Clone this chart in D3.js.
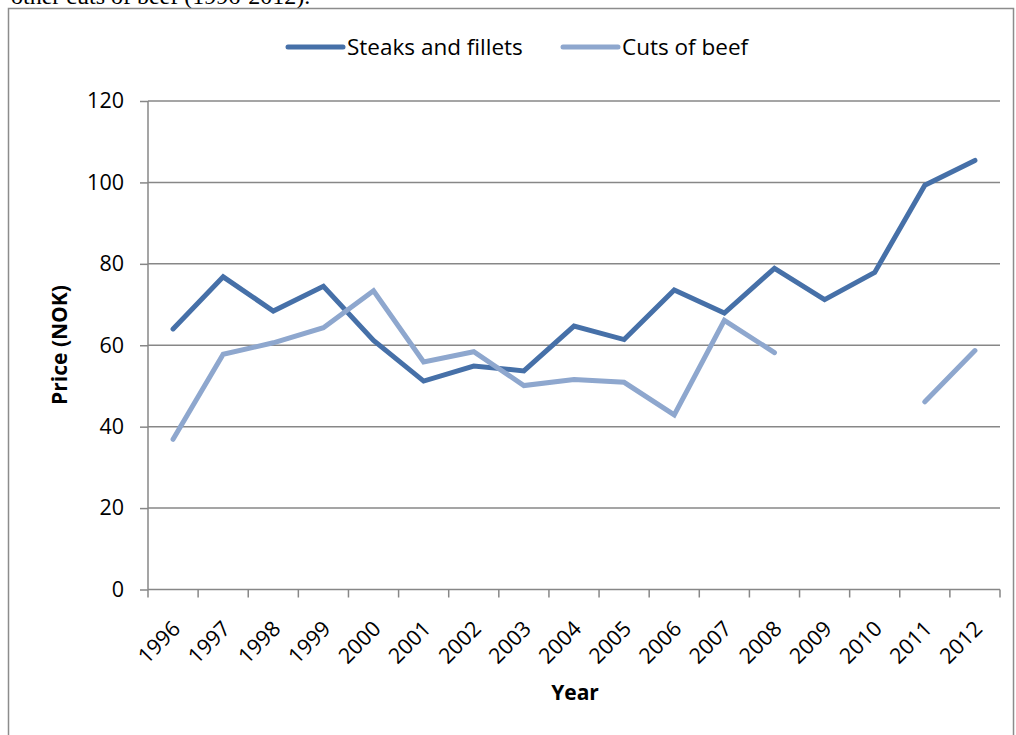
<!DOCTYPE html>
<html>
<head>
<meta charset="utf-8">
<script src="https://cdn.jsdelivr.net/npm/d3@7"></script>
<style>
  body { margin: 0; background: #fff; }
  svg { display: block; font-family: "Open Sans", sans-serif; }
</style>
</head>
<body>
<svg id="chart" width="1016" height="735"></svg>
<script>
// Chart values
const years = ["1996", "1997", "1998", "1999", "2000", "2001", "2002", "2003", "2004",
               "2005", "2006", "2007", "2008", "2009", "2010", "2011", "2012"];
const steaks = [64.0, 76.8, 68.4, 74.5, 61.2, 51.2, 54.9, 53.7, 64.7,
                61.4, 73.6, 67.9, 78.9, 71.2, 77.9, 99.3, 105.4];
const cuts = [36.9, 57.8, 60.6, 64.3, 73.4, 55.9, 58.4, 50.1, 51.6,
              50.9, 42.9, 66.1, 58.2, null, null, 46.1, 58.7];
const yTicks = [0, 20, 40, 60, 80, 100, 120];
const seriesNames = ["Steaks and fillets", "Cuts of beef"];
const colors = ["#4670A8", "#8EA7CE"];

const svg = d3.select("#chart");
const margin = {left: 148, right: 1000, top: 101, bottom: 589.5};

// caption cut off above the frame (as in the reference)
svg.append("text")
    .attr("x", 11).attr("y", 4)
    .attr("font-family", "Liberation Serif, serif")
    .attr("font-size", 24)
    .text("other cuts of beef (1996-2012).");

// chart frame
svg.append("rect")
    .attr("x", 8.5).attr("y", 8.5)
    .attr("width", 1005).attr("height", 740)
    .attr("fill", "none").attr("stroke", "#8c8c8c").attr("stroke-width", 1.5);

const x = d3.scaleBand().domain(years).range([margin.left, margin.right]);
const y = d3.scaleLinear().domain([0, 120]).range([margin.bottom, margin.top]);

// gridlines
svg.append("g")
    .selectAll("line")
    .data(yTicks.filter(d => d > 0))
    .enter().append("line")
    .attr("x1", margin.left).attr("x2", margin.right)
    .attr("y1", d => y(d)).attr("y2", d => y(d))
    .attr("stroke", "#878787").attr("stroke-width", 1.5);

// y axis
const yAxis = svg.append("g")
    .attr("transform", `translate(${margin.left},0)`)
    .call(d3.axisLeft(y).tickValues(yTicks).tickSize(8).tickPadding(16));
yAxis.selectAll("line, path").attr("stroke", "#878787").attr("stroke-width", 1.5);
yAxis.select(".domain").attr("d", `M0,${margin.top}V${margin.bottom}`);
yAxis.selectAll("text").attr("font-size", 21.5).attr("fill", "#000")
    .attr("font-family", "Open Sans, sans-serif");

// x axis: ticks on category boundaries
const xAxis = svg.append("g")
    .attr("transform", `translate(0,${margin.bottom})`);
xAxis.append("line")
    .attr("x1", margin.left).attr("x2", margin.right)
    .attr("stroke", "#878787").attr("stroke-width", 1.5);
xAxis.selectAll(".tick")
    .data(years.concat(["end"]))
    .enter().append("line")
    .attr("x1", (d, i) => i < years.length ? x(d) : margin.right)
    .attr("x2", (d, i) => i < years.length ? x(d) : margin.right)
    .attr("y1", 0).attr("y2", 8)
    .attr("stroke", "#878787").attr("stroke-width", 1.5);
xAxis.selectAll("text")
    .data(years)
    .enter().append("text")
    .attr("transform", d => `translate(${x(d) + x.bandwidth() / 2 - 2},${30}) rotate(-45)`)
    .attr("text-anchor", "end")
    .attr("dy", "0.7em")
    .attr("font-size", 21.5)
    .text(d => d);

// axis titles
svg.append("text")
    .attr("transform", "translate(67,345) rotate(-90)")
    .attr("text-anchor", "middle")
    .attr("font-size", 21).attr("font-weight", "bold")
    .text("Price (NOK)");
svg.append("text")
    .attr("x", 575).attr("y", 700)
    .attr("text-anchor", "middle")
    .attr("font-size", 21).attr("font-weight", "bold")
    .text("Year");

// lines
const line = d3.line()
    .defined(d => d.v !== null)
    .x(d => x(d.year) + x.bandwidth() / 2)
    .y(d => y(d.v));

[steaks, cuts].forEach((vals, i) => {
    const pts = years.map((yr, j) => ({year: yr, v: vals[j]}));
    svg.append("path")
        .datum(pts)
        .attr("d", line)
        .attr("fill", "none")
        .attr("stroke", colors[i])
        .attr("stroke-width", 5)
        .attr("stroke-linecap", "round")
        .attr("stroke-linejoin", "miter");
});

// legend
const legendX = [288, 563];
seriesNames.forEach((name, i) => {
    const g = svg.append("g").attr("transform", `translate(${legendX[i]},47)`);
    g.append("line")
        .attr("x1", 0).attr("x2", 55)
        .attr("stroke", colors[i]).attr("stroke-width", 5)
        .attr("stroke-linecap", "round");
    g.append("text")
        .attr("x", 59).attr("dy", "0.35em")
        .attr("font-size", 22.5)
        .text(name);
});
</script>
</body>
</html>
